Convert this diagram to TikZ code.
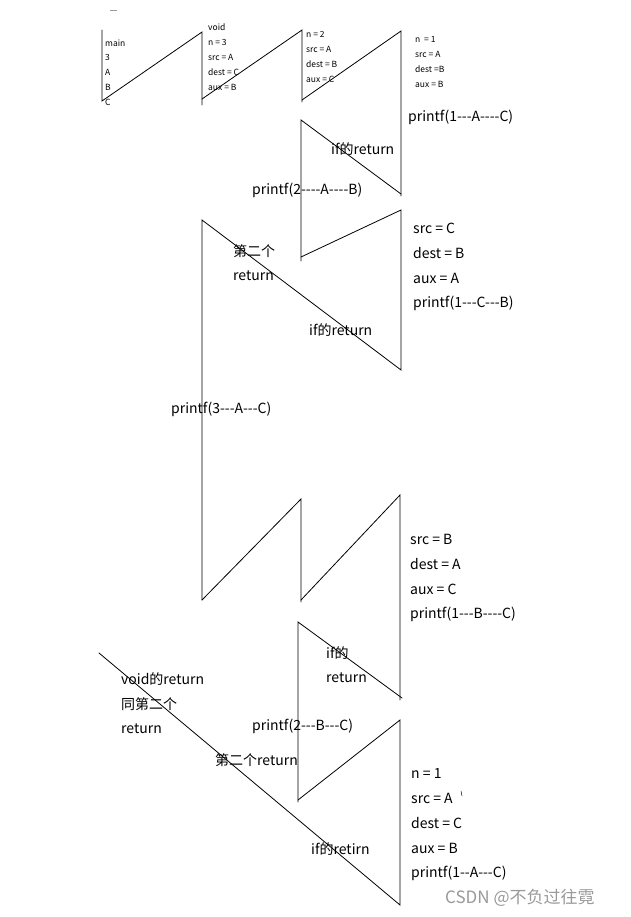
\documentclass[tikz,border=0pt]{standalone}
\usepackage{fontspec}
\newfontfamily\cjk{Noto Sans CJK SC}
\usepackage{tkz-euclide}
\definecolor{MarkClr}{rgb}{0.6,0.6,0.6}
\tikzset{
  vartxt/.style={anchor=west,inner sep=0pt,font=\cjk\fontsize{8.5}{10}\selectfont},
  calltxt/.style={anchor=west,inner sep=0pt,font=\cjk\fontsize{14}{16}\selectfont},
}

\begin{document}
\begin{tikzpicture}[x=1pt,y=-1pt]
\useasboundingbox (0,0) rectangle (630,917);
\tkzSetUpLine[line width=0.8pt,color=black]

% top frames
\tkzDefPoints{102/30/T1,102/101/T2,202/32/T3,202/105/T4,202/99/T5,
  302/30/T6,302/102/T7,302/100/T8,401/31/T9,401/196/T10}
\tkzDrawPolySeg(T1,T2,T3,T4)
\tkzDrawPolySeg(T5,T6,T7)
\tkzDrawPolySeg(T8,T9,T10)

% second level
\tkzDefPoints{301/120/U1,301/261/U2,401/194/U3,301/257/U4,401/210/U5,
  401/370/U6,202/220/U7,202/600/U8}
\tkzDrawPolySeg(U3,U1,U2)
\tkzDrawPolySeg(U4,U5,U6,U7,U8)

% third level
\tkzDefPoints{301/499/V2,301/602/V3,301/600/V4,400/495/V5,400/700/V6}
\tkzDrawPolySeg(U8,V2,V3)
\tkzDrawPolySeg(V4,V5,V6)

% last level
\tkzDefPoints{298/622/W1,402/698/W2,298/802/W3,298/800/W4,400/720/W5,
  400/905/W6,99/653/W7}
\tkzDrawPolySeg(W2,W1,W3)
\tkzDrawPolySeg(W4,W5,W6,W7)

% stray marks
\draw[MarkClr,line width=0.6pt] (110,10) -- (117,10);
\draw[line width=0.5pt] (461,791) -- (462,796);

% frame variables
\node[vartxt] (m1) at (105,43) {main};
\node[vartxt] (m2) at (105,57) {3};
\node[vartxt] (m3) at (105,72) {A};
\node[vartxt] (m4) at (105,87) {B};
\node[vartxt] (m5) at (105,102) {C};

\node[vartxt] (a0) at (208,27) {void};
\node[vartxt] (a1) at (208,42) {n = 3};
\node[vartxt] (a2) at (208,57) {src = A};
\node[vartxt] (a3) at (208,72) {dest = C};
\node[vartxt] (a4) at (208,87) {aux = B};

\node[vartxt] (b1) at (306,34) {n = 2};
\node[vartxt] (b2) at (306,49) {src = A};
\node[vartxt] (b3) at (306,64) {dest = B};
\node[vartxt] (b4) at (306,79) {aux = C};

\node[vartxt] (c1) at (415,39) {n \ = 1};
\node[vartxt] (c2) at (415,54) {src = A};
\node[vartxt] (c3) at (415,69) {dest =B};
\node[vartxt] (c4) at (415,84) {aux = B};

% calls and returns
\node[calltxt] (p1) at (408,117) {printf(1---A----C)};
\node[calltxt] (r1) at (331,149) {if的return};
\node[calltxt] (p2) at (252,190) {printf(2----A----B)};
\node[calltxt] (r2a) at (233,251) {第二个};
\node[calltxt] (r2b) at (233,276) {return};

\node[calltxt] (d1) at (413,228) {src = C};
\node[calltxt] (d2) at (413,253) {dest = B};
\node[calltxt] (d3) at (413,278) {aux = A};
\node[calltxt] (d4) at (413,303) {printf(1---C---B)};
\node[calltxt] (r3) at (309,330) {if的return};

\node[calltxt] (p3) at (171,409) {printf(3---A---C)};

\node[calltxt] (e1) at (410,539) {src = B};
\node[calltxt] (e2) at (410,564) {dest = A};
\node[calltxt] (e3) at (410,589) {aux = C};
\node[calltxt] (e4) at (410,614) {printf(1---B----C)};

\node[calltxt] (r4a) at (326,653) {if的};
\node[calltxt] (r4b) at (326,678) {return};
\node[calltxt] (v1) at (121,679) {void的return};
\node[calltxt] (v2) at (121,704) {同第二个};
\node[calltxt] (v3) at (121,729) {return};
\node[calltxt] (p4) at (252,726) {printf(2---B---C)};
\node[calltxt] (r5) at (215,760) {第二个return};

\node[calltxt] (f1) at (411,773) {n = 1};
\node[calltxt] (f2) at (411,798) {src = A};
\node[calltxt] (f3) at (411,823) {dest = C};
\node[calltxt] (f4) at (411,848) {aux = B};
\node[calltxt] (f5) at (411,873) {printf(1--A---C)};
\node[calltxt] (r6) at (311,849) {if的retirn};

% watermark
\node[calltxt,MarkClr,font=\cjk\fontsize{17}{19}\selectfont] (wm) at (445,898) {CSDN @不负过往霓};

\end{tikzpicture}
\end{document}
